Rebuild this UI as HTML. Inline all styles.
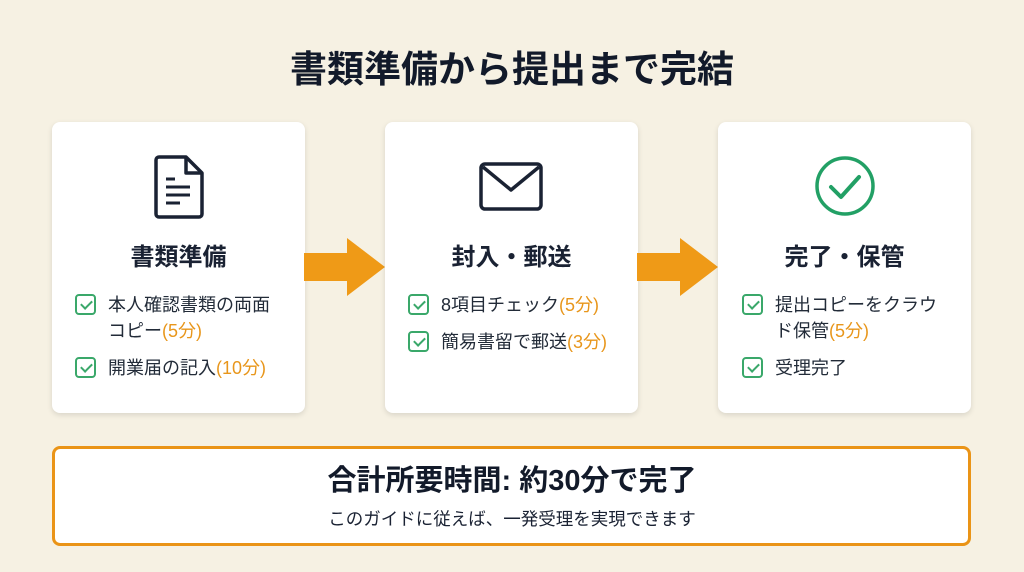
<!DOCTYPE html>
<html><head><meta charset="utf-8"><style>
*{margin:0;padding:0;box-sizing:border-box}
body{width:1024px;height:572px;background:#f6f1e3;position:relative;overflow:hidden;font-family:"Liberation Sans","Noto Sans CJK JP",sans-serif;color:#1a2233}
.t{position:absolute;white-space:nowrap}
.card{position:absolute;top:122px;width:253px;height:291px;background:#fff;border-radius:8px;box-shadow:0 2px 6px rgba(0,0,0,.12)}
.h{position:absolute;left:0;width:100%;text-align:center;top:122px;font-size:24px;font-weight:bold;line-height:28px}
.cb{position:absolute;width:21px;height:21px;border:2px solid #3aa86a;border-radius:4px}
.cb:after{content:"";position:absolute;left:6px;top:2px;width:5px;height:9px;border:solid #3aa86a;border-width:0 2px 2px 0;transform:rotate(45deg)}
.it{position:absolute;font-size:18px;line-height:26px;color:#222b38;white-space:nowrap}
.o{color:#e8961b}
</style></head><body>
<div class="t" style="left:0;width:1024px;text-align:center;top:47px;font-size:37px;font-weight:bold;line-height:46px;color:#121a2a">書類準備から提出まで完結</div>

<div class="card" style="left:52px">
 <svg style="position:absolute;left:101px;top:32px" width="52" height="66" viewBox="0 0 52 66"><path d="M6 3H33L49 19V60a3 3 0 0 1-3 3H6a3 3 0 0 1-3-3V6a3 3 0 0 1 3-3z" fill="none" stroke="#1a2233" stroke-width="3.5" stroke-linejoin="round"/><path d="M33 3V19H49" fill="none" stroke="#1a2233" stroke-width="3.5" stroke-linejoin="round"/><path d="M13 25H22M13 33H37M13 41H37M13 49H27" stroke="#1a2233" stroke-width="3"/></svg>
 <div class="h">書類準備</div>
 <div class="cb" style="left:23px;top:172px"></div>
 <div class="it" style="left:56px;top:170px">本人確認書類の両面<br>コピー<span class="o">(5分)</span></div>
 <div class="cb" style="left:23px;top:235px"></div>
 <div class="it" style="left:56px;top:233px">開業届の記入<span class="o">(10分)</span></div>
</div>

<svg style="position:absolute;left:304px;top:236px" width="82" height="62"><path d="M0 17H43V2L81 31L43 60V45H0z" fill="#ef9a17"/></svg>

<div class="card" style="left:385px">
 <svg style="position:absolute;left:94px;top:40px" width="64" height="50"><rect x="2" y="2" width="60" height="45" rx="4" fill="none" stroke="#1a2233" stroke-width="3.5"/><path d="M4 5L32 28L60 5" fill="none" stroke="#1a2233" stroke-width="3.5" stroke-linejoin="round"/></svg>
 <div class="h">封入・郵送</div>
 <div class="cb" style="left:23px;top:172px"></div>
 <div class="it" style="left:56px;top:170px">8項目チェック<span class="o">(5分)</span></div>
 <div class="cb" style="left:23px;top:209px"></div>
 <div class="it" style="left:56px;top:207px">簡易書留で郵送<span class="o">(3分)</span></div>
</div>

<svg style="position:absolute;left:637px;top:236px" width="82" height="62"><path d="M0 17H43V2L81 31L43 60V45H0z" fill="#ef9a17"/></svg>

<div class="card" style="left:718px">
 <svg style="position:absolute;left:96px;top:33px" width="62" height="62"><circle cx="31" cy="31" r="28" fill="none" stroke="#22a065" stroke-width="3.5"/><path d="M17 32L27 42L45 22" fill="none" stroke="#22a065" stroke-width="4" stroke-linecap="round" stroke-linejoin="round"/></svg>
 <div class="h">完了・保管</div>
 <div class="cb" style="left:24px;top:172px"></div>
 <div class="it" style="left:57px;top:170px">提出コピーをクラウ<br>ド保管<span class="o">(5分)</span></div>
 <div class="cb" style="left:24px;top:235px"></div>
 <div class="it" style="left:57px;top:233px">受理完了</div>
</div>

<div style="position:absolute;left:52px;top:446px;width:919px;height:100px;background:#fff;border:3px solid #ea9417;border-radius:8px"></div>
<div class="t" style="left:0;width:1024px;text-align:center;top:464px;font-size:29px;font-weight:bold;line-height:34px;color:#121a2a">合計所要時間: 約30分で完了</div>
<div class="t" style="left:0;width:1024px;text-align:center;top:507px;font-size:17.5px;line-height:24px;color:#1a2233">このガイドに従えば、一発受理を実現できます</div>
</body></html>
